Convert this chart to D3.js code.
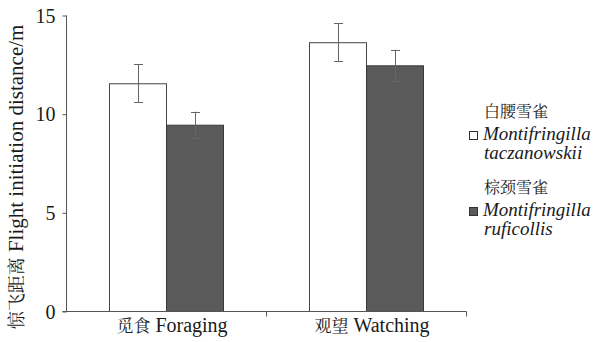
<!DOCTYPE html>
<html><head><meta charset="utf-8">
<script src="https://cdn.jsdelivr.net/npm/d3@7"></script>
</head>
<body style="margin:0;background:#fff">
<svg id="c" width="593" height="342"></svg>
<script>
const categories = ["觅食 Foraging", "观望 Watching"];
const categoryCN = ["觅食", "观望"];
const categoryEN = ["Foraging", "Watching"];
const seriesKeys = ["taczanowskii", "ruficollis"];
const seriesCN = ["白腰雪雀", "棕颈雪雀"];
const seriesLatin1 = ["Montifringilla", "Montifringilla"];
const seriesLatin2 = ["taczanowskii", "ruficollis"];
const taczanowskiiValues = [11.54, 13.62];
const taczanowskiiErrors = [0.97, 0.97];
const ruficollisValues = [9.44, 12.45];
const ruficollisErrors = [0.66, 0.79];
const yTicks = [0, 5, 10, 15];

const SERIF = '"Liberation Serif", "Times New Roman"';
const CN = '"Noto Serif CJK SC", "Liberation Serif"';
const colors = {taczanowskii: "#ffffff", ruficollis: "#5a5a5a"};
const axisColor = "#555";
const textColor = "#1a1a1a";

const svg = d3.select("#c");
const x0 = d3.scaleBand().domain(categories).range([66, 466]).padding(0);
const x1 = d3.scaleBand().domain(seriesKeys).range([43, 157]).padding(0);
const y = d3.scaleLinear().domain([0, 15]).range([311, 15]);

const data = categories.map((c, i) => ({
  cat: c,
  bars: [
    {key: "taczanowskii", v: taczanowskiiValues[i], e: taczanowskiiErrors[i]},
    {key: "ruficollis", v: ruficollisValues[i], e: ruficollisErrors[i]}
  ]
}));

const groups = svg.append("g").selectAll("g.grp").data(data).join("g")
  .attr("transform", d => `translate(${x0(d.cat)},0)`);
groups.selectAll("rect").data(d => d.bars).join("rect")
  .attr("x", d => x1(d.key) + 0.5)
  .attr("y", d => y(d.v) + 0.5)
  .attr("width", x1.bandwidth())
  .attr("height", d => y(0) - y(d.v))
  .attr("fill", d => colors[d.key])
  .attr("stroke", d => d.key === "ruficollis" ? "#3a3a3a" : "#444")
  .attr("stroke-width", 1);

const eb = groups.selectAll("g.eb").data(d => d.bars).join("g").attr("class", "eb");
const cx = d => Math.round(x1(d.key) + x1.bandwidth() / 2) + 0.5;
eb.append("line")
  .attr("x1", cx).attr("x2", cx)
  .attr("y1", d => y(d.v + d.e)).attr("y2", d => y(d.v - d.e))
  .attr("stroke", "#666").attr("stroke-width", 1);
[1, -1].forEach(s => {
  eb.append("line")
    .attr("x1", d => cx(d) - 4.5).attr("x2", d => cx(d) + 4.5)
    .attr("y1", d => Math.round(y(d.v + s * d.e)) + 0.5)
    .attr("y2", d => Math.round(y(d.v + s * d.e)) + 0.5)
    .attr("stroke", "#666").attr("stroke-width", 1);
});

const yAxis = d3.axisLeft(y).tickValues(yTicks).tickSize(4).tickPadding(7).tickFormat(d3.format("d"));
const ya = svg.append("g").attr("transform", "translate(66.5,0.5)").call(yAxis);
ya.attr("font-family", null).attr("font-size", null);
ya.select(".domain").attr("stroke", axisColor).attr("d", `M0,${y(15)}V${y(0)}`);
ya.selectAll(".tick line").attr("stroke", axisColor);
ya.selectAll(".tick text").style("font-family", SERIF).style("font-size", "20px")
  .attr("fill", textColor).attr("dy", "0.34em");

const xa = svg.append("g").attr("transform", `translate(0.5,${y(0) + 0.5})`);
xa.append("path").attr("d", `M${x0.range()[0] - 4},0H${x0.range()[1]}`).attr("stroke", axisColor).attr("fill", "none");
const boundaries = [x0(categories[1]), x0(categories[1]) + x0.bandwidth()];
xa.selectAll("line.tk").data(boundaries).join("line")
  .attr("x1", d => d).attr("x2", d => d).attr("y1", 0).attr("y2", 5)
  .attr("stroke", axisColor);

const xl = svg.selectAll("text.xl").data(categories).join("text")
  .attr("class", "xl")
  .attr("x", d => x0(d) + x0.bandwidth() / 2 + 6)
  .attr("y", 332)
  .attr("fill", textColor)
  .attr("text-anchor", "middle");
xl.append("tspan").style("font-family", CN).style("font-size", "17px").text((d, i) => categoryCN[i]);
xl.append("tspan").style("font-family", SERIF).style("font-size", "20px").text((d, i) => " " + categoryEN[i]);

const yl = svg.append("text")
  .attr("transform", `translate(23,${(y(0) + y(15)) / 2 + 14}) rotate(-90)`)
  .attr("fill", textColor)
  .attr("text-anchor", "middle");
yl.append("tspan").style("font-family", CN).style("font-size", "18px").text("惊飞距离");
yl.append("tspan").style("font-family", SERIF).style("font-size", "21px").text(" Flight initiation distance/m");

const legendRows = [117, 193];
const lg = svg.selectAll("g.lg").data(seriesKeys).join("g").attr("class", "lg")
  .attr("transform", (d, i) => `translate(0,${legendRows[i]})`);
lg.append("text").attr("x", 484).attr("y", 0).attr("fill", textColor)
  .style("font-family", CN).style("font-size", "16px").text((d, i) => seriesCN[i]);
lg.append("rect").attr("x", 469.5).attr("y", 14.5).attr("width", 8).attr("height", 8)
  .attr("fill", d => colors[d]).attr("stroke", "#333");
lg.append("text").attr("x", 483).attr("y", 23).attr("fill", textColor)
  .style("font-family", SERIF).style("font-style", "italic").style("font-size", "19px")
  .text((d, i) => seriesLatin1[i]);
lg.append("text").attr("x", 484).attr("y", 42).attr("fill", textColor)
  .style("font-family", SERIF).style("font-style", "italic").style("font-size", "19px")
  .text((d, i) => seriesLatin2[i]);
</script>
</body></html>
